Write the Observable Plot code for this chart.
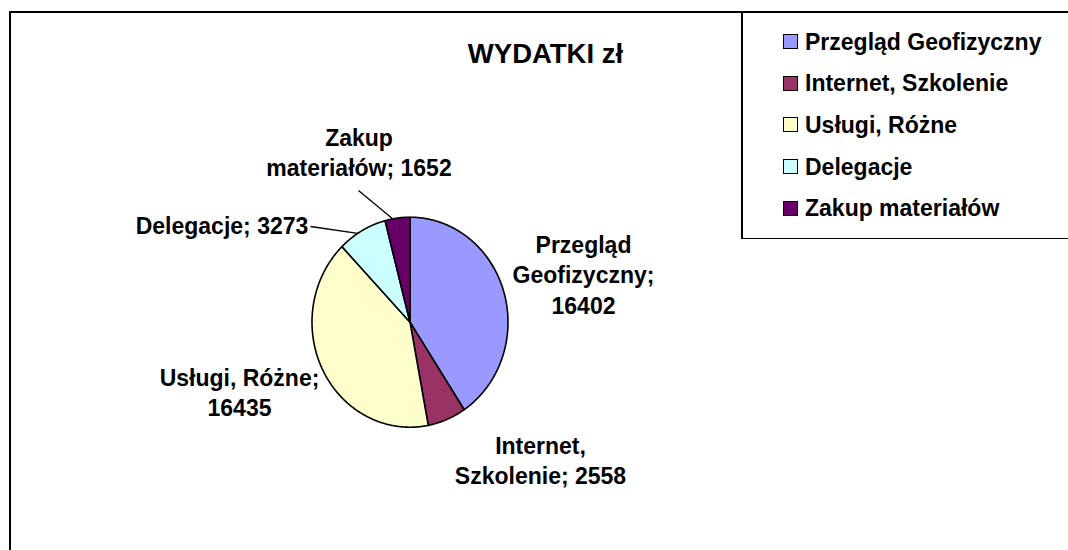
<!DOCTYPE html>
<html><head><meta charset="utf-8">
<script src="https://cdn.jsdelivr.net/npm/d3@7"></script>
<script src="https://cdn.jsdelivr.net/npm/@observablehq/plot@0.6"></script>
<style>
html,body{margin:0;padding:0;background:#fff;overflow:hidden}
#wrap{position:relative;width:1068px;height:550px;overflow:hidden;font-family:"Liberation Sans",Arial,sans-serif;background:#fff}
#wrap svg{position:absolute;left:0;top:0}
#frame{position:absolute;left:9px;top:11px;width:1200px;height:700px;border-left:2px solid #000;border-top:2px solid #000;pointer-events:none}
#legend{position:absolute;left:741px;top:11px;width:360px;height:225px;border:2px solid #000;border-bottom-width:1.5px;background:#fff}
.sw{position:absolute;width:13px;height:13px;border:1px solid #000}
.lt{position:absolute;font-size:23px;line-height:23px;font-weight:bold;white-space:nowrap;color:#000}
</style>
</head><body>
<div id="wrap"><div id="legend"></div><div id="frame"></div></div>
<script>
// ---- data ----
const title = "WYDATKI zł";
const names = ["Przegląd Geofizyczny", "Internet, Szkolenie", "Usługi, Różne", "Delegacje", "Zakup materiałów"];
const values = [16402, 2558, 16435, 3273, 1652];
const colors = ["#9999FF", "#993366", "#FFFFCC", "#CCFFFF", "#660066"];

// ---- layout ----
const W = 1068, H = 550;
const cx = 409.5, cy = 321.7, rx = 98, ry = 105;
const fontLabel = 23, lineGap = 30.7;
// words per line for each data label, label centre x, first baseline y, leader start
const labelLayout = [
  {words: [1, 1, 1], x: 583, y: 252},
  {words: [1, 2], x: 540, y: 453},
  {words: [2, 1], x: 239, y: 385},
  {words: [2], x: 221.5, y: 233, lead: [310, 226]},
  {words: [1, 2], x: 358.5, y: 145, lead: [358, 190]}
];
const legendBaselines = [50, 91.7, 133.3, 175, 216.7];

const rows = names.map((name, i) => ({name, value: values[i]}));
const arcs = d3.pie().sort(null).value(d => d.value)(rows);
const pt = a => [cx + rx * Math.sin(a), cy - ry * Math.cos(a)];

const poly = arcs.flatMap(a => {
  const n = Math.max(2, Math.ceil((a.endAngle - a.startAngle) / (Math.PI / 360)));
  const pts = [[cx, cy]];
  for (let k = 0; k <= n; k++) pts.push(pt(a.startAngle + (a.endAngle - a.startAngle) * k / n));
  pts.push([cx, cy]);
  return pts.map(([x, y]) => ({name: a.data.name, x, y}));
});

const labelRows = arcs.flatMap((a, i) => {
  const L = labelLayout[i];
  const words = `${a.data.name}; ${a.data.value}`.split(" ");
  const out = []; let w = 0;
  L.words.forEach((c, j) => { out.push({text: words.slice(w, w + c).join(" "), x: L.x, y: L.y + j * lineGap}); w += c; });
  return out;
});

const leaders = arcs.map((a, i) => ({a, L: labelLayout[i]})).filter(d => d.L.lead).map(({a, L}) => {
  const [x2, y2] = pt((a.startAngle + a.endAngle) / 2 - 0.05);
  return {x1: L.lead[0], y1: L.lead[1], x2, y2};
});

const chart = Plot.plot({
  width: W, height: H,
  margin: 0,
  x: {domain: [0, W], range: [0, W], axis: null},
  y: {domain: [0, H], range: [0, H], axis: null},
  color: {type: "ordinal", domain: names, range: colors},
  style: {fontFamily: "'Liberation Sans', Arial, sans-serif", background: "transparent", color: "#000"},
  marks: [
    Plot.line(poly, {x: "x", y: "y", z: "name", fill: "name", stroke: "#000", strokeWidth: 1.6, strokeLinejoin: "round"}),
    Plot.link(leaders, {x1: "x1", y1: "y1", x2: "x2", y2: "y2", stroke: "#000", strokeWidth: 1.3}),
    Plot.text(labelRows, {x: "x", y: "y", text: "text", fontSize: fontLabel, fontWeight: "bold", fill: "#000", textAnchor: "middle", lineAnchor: "bottom"}),
    Plot.text([title], {x: 545, y: 62, text: d => d, fontSize: 27.5, fontWeight: "bold", fill: "#000", textAnchor: "middle", lineAnchor: "bottom"})
  ]
});
const wrap = document.getElementById("wrap");
wrap.insertBefore(chart, wrap.firstChild);

// legend
const legend = document.getElementById("legend");
const top0 = 13, left0 = 743;
names.forEach((n, i) => {
  const b = legendBaselines[i];
  const sw = document.createElement("div");
  sw.className = "sw";
  sw.style.background = colors[i];
  sw.style.left = (783 - left0) + "px";
  sw.style.top = (b - 16 - top0) + "px";
  legend.appendChild(sw);
  const t = document.createElement("div");
  t.className = "lt";
  t.textContent = n;
  t.style.left = (805 - left0) + "px";
  t.style.top = (b - 19.5 - top0) + "px";
  legend.appendChild(t);
});
</script>
</body></html>
